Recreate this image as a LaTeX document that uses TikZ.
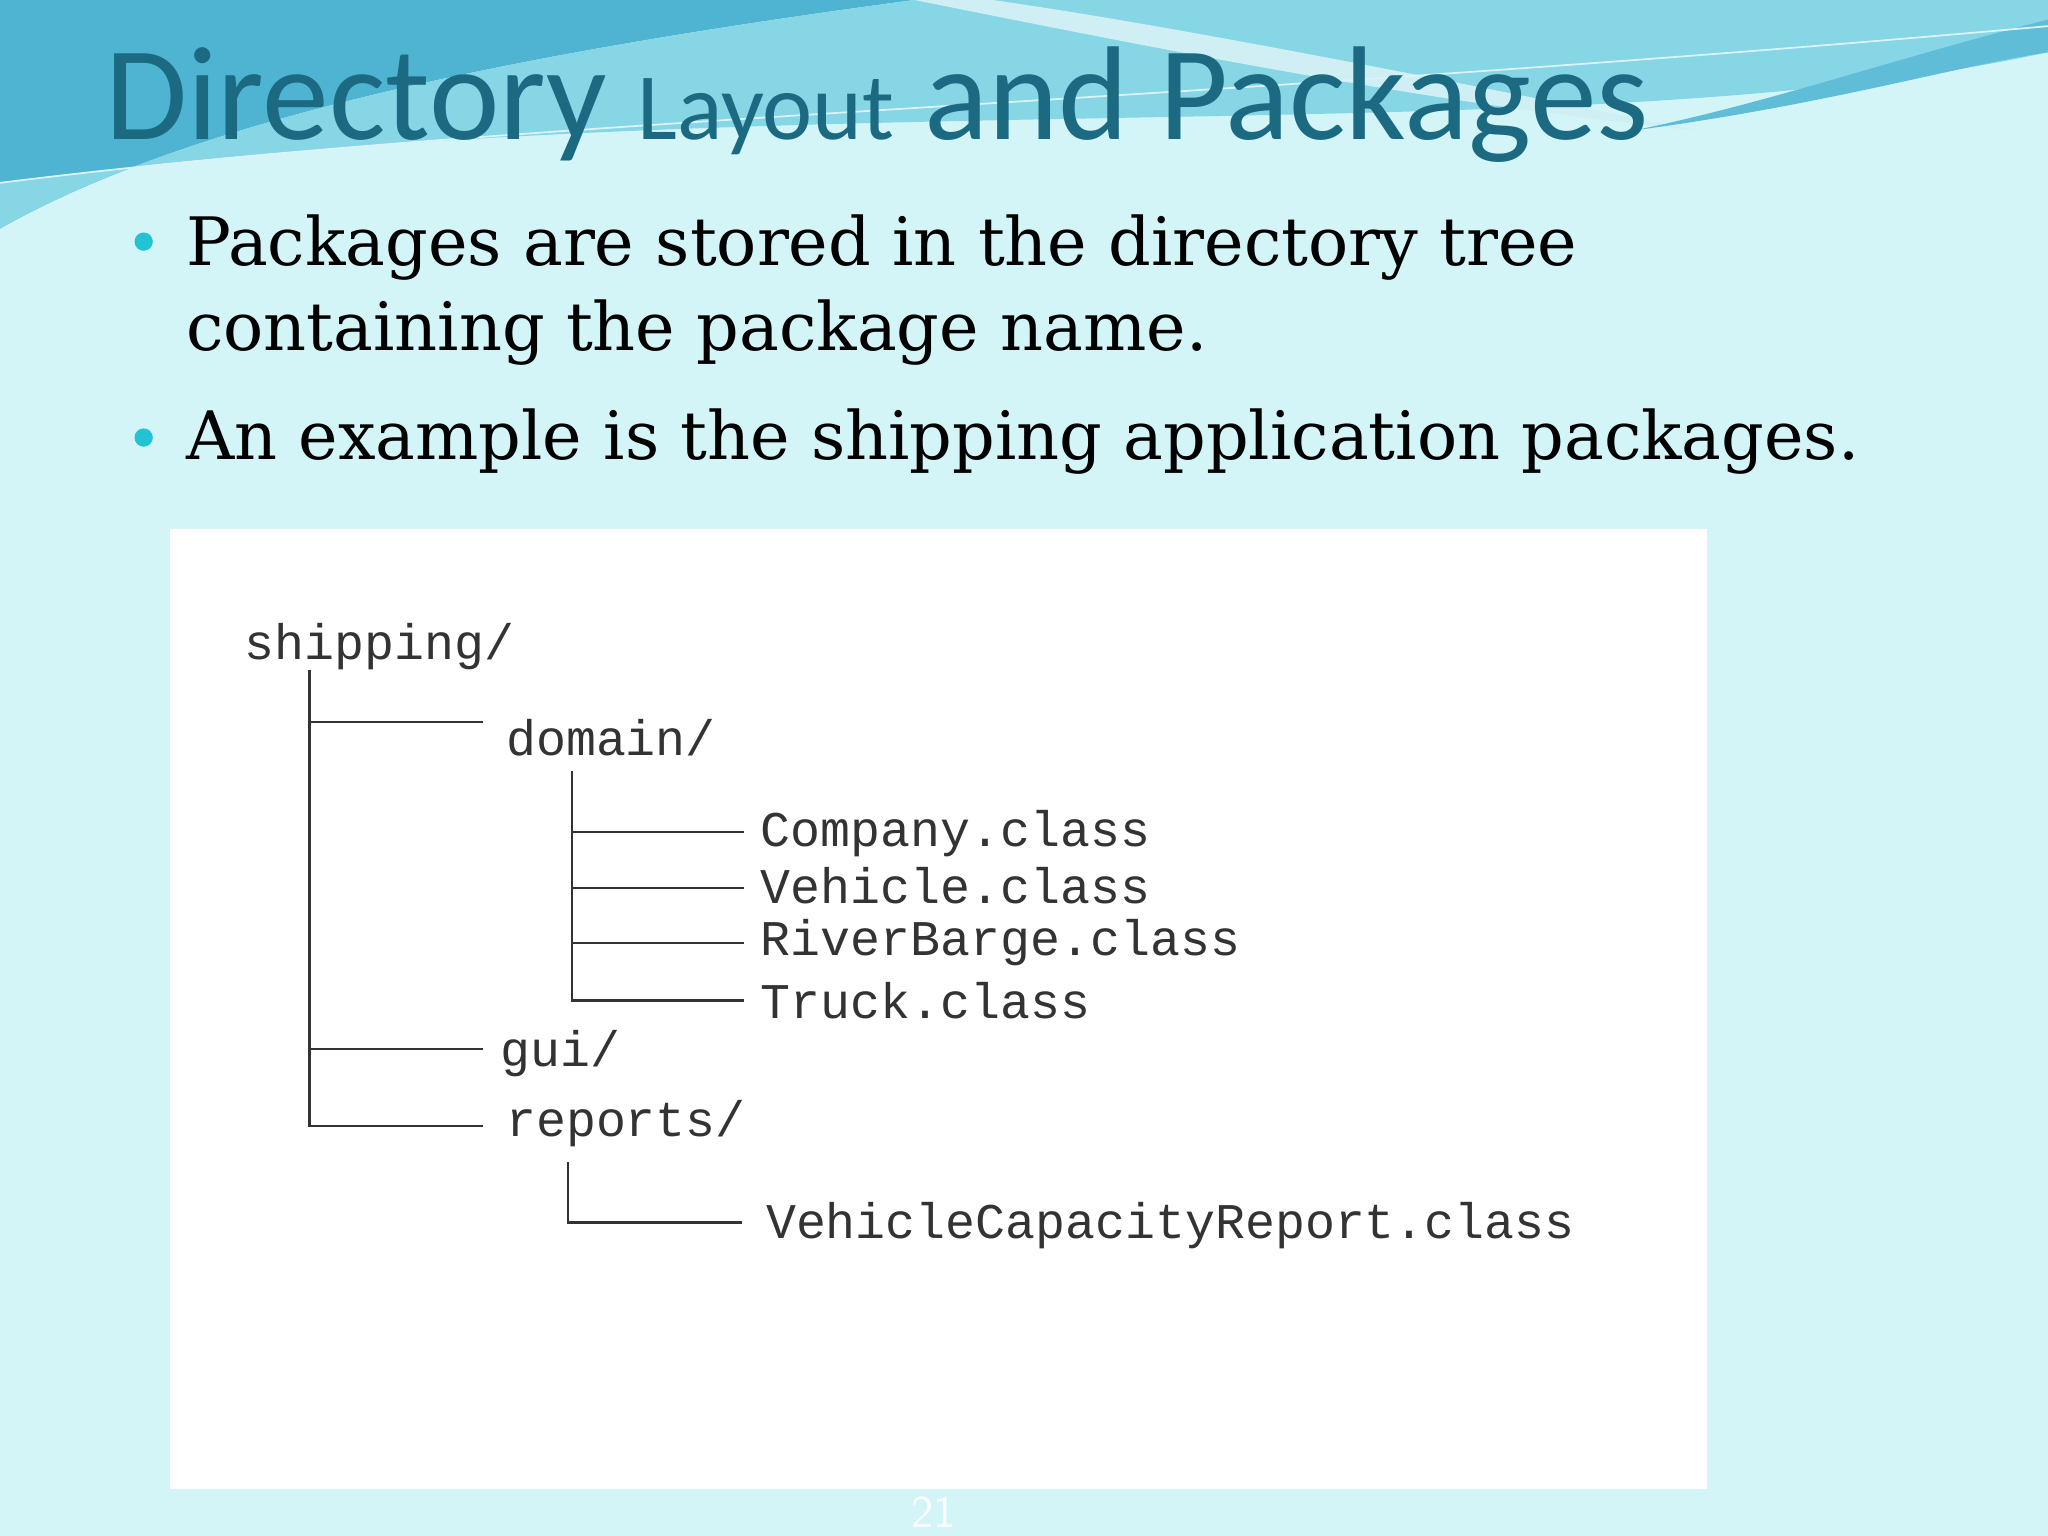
\documentclass[tikz,border=0pt]{standalone}
\usepackage{fontspec}
\setmainfont{DejaVu Serif}
\newfontfamily\titlefont{Carlito}
\newfontfamily\monofont{Liberation Mono}
\definecolor{bg}{HTML}{D3F5F8}
\definecolor{wave}{HTML}{86D6E6}
\definecolor{wavedark}{HTML}{4FB3D2}
\definecolor{titlec}{HTML}{1B6A82}
\definecolor{bul}{HTML}{22C4D4}
\definecolor{treec}{HTML}{333333}
\begin{document}
\begin{tikzpicture}[x=0.013061cm,y=-0.013061cm,
  file/.style={anchor=west,inner sep=0pt,font=\monofont\fontsize{14.2}{14}\selectfont,text=treec},
  bullet/.style={anchor=west,inner sep=0pt,align=left,font=\fontsize{19}{24}\selectfont},
  tree/.style={draw=treec,line width=0.6pt}]
\useasboundingbox (0,0) rectangle (1568,1176);
\fill[bg] (0,0) rectangle (1568,1176);
% waves
\fill[wavedark] (0,0) -- (700,0) .. controls (400,40) and (150,90) .. (0,175) -- cycle;
\fill[wave] (0,175) .. controls (150,90) and (400,40) .. (700,0) -- (1568,0) -- (1568,40) .. controls (1200,120) and (600,60) .. (0,140) -- cycle;
\fill[white!60!wave] (700,0) .. controls (900,40) and (1100,80) .. (1300,100) .. controls (1100,60) and (900,20) .. (760,0) -- cycle;
\fill[wavedark!70!wave] (1568,15) .. controls (1450,45) and (1350,80) .. (1250,100) .. controls (1400,80) and (1500,50) .. (1568,40) -- cycle;
\draw[white!70!wave,line width=0.5pt] (0,140) .. controls (400,90) and (900,80) .. (1568,20);
% title
\node[anchor=base west,inner sep=0pt,text=titlec] (title) at (80,107)
  {\titlefont\fontsize{38}{40}\selectfont Directory {\fontsize{27}{30}\selectfont Layout} and Packages};
% bullets
\fill[bul] (110,185) circle (7);
\fill[bul] (110,335) circle (7);
\node[bullet] (b1) at (142,222) {Packages are stored in the directory tree\\containing the package name.};
\node[bullet] (b2) at (142,338) {An example is the shipping application packages.};
% box
\fill[white] (130,405) rectangle (1307,1140);
\node[file] (ship) at (187,495) {shipping/};
\node[file] (dom) at (387,565) {domain/};
\node[file] (comp) at (582,638) {Company.class};
\node[file] (veh) at (582,678) {Vehicle.class};
\node[file] (riv) at (582,722) {RiverBarge.class};
\node[file] (tru) at (582,766) {Truck.class};
\node[file] (gui) at (383,807) {gui/};
\node[file] (rep) at (387,860) {reports/};
\node[file] (vcr) at (586,938) {VehicleCapacityReport.class};
\coordinate (s0) at (237,513);
\draw[tree] (s0) -- (237,862) -- (370,862);
\draw[tree] (237,553) -- (370,553);
\draw[tree] (237,803) -- (370,803);
\draw[tree] (438,590) -- (438,766) -- (570,766);
\draw[tree] (438,637) -- (570,637);
\draw[tree] (438,680) -- (570,680);
\draw[tree] (438,722) -- (570,722);
\draw[tree] (435,890) -- (435,936) -- (568,936);
\node[text=white!85!bg,font=\sffamily\fontsize{13}{14}\selectfont] (pg) at (715,1158) {21};
\end{tikzpicture}
\end{document}
